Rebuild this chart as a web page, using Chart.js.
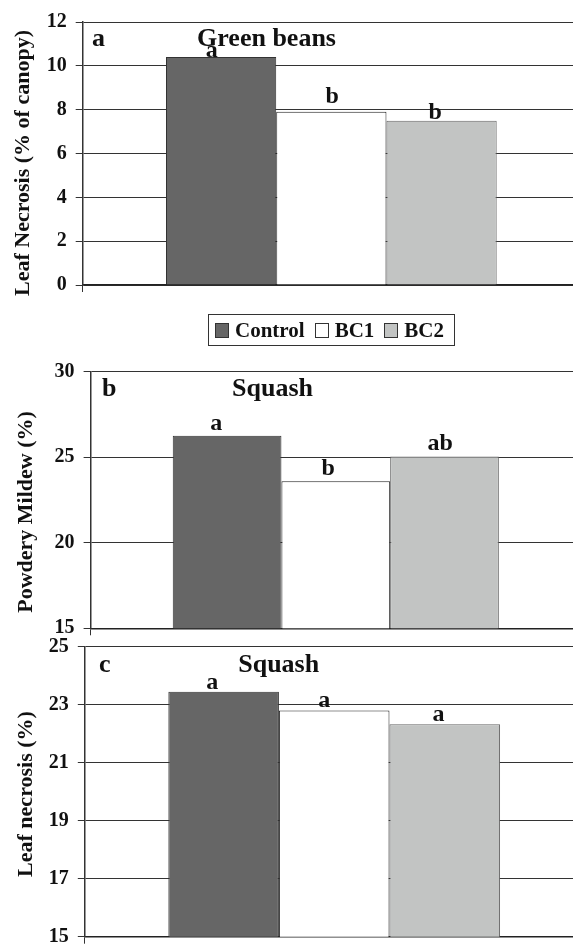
<!DOCTYPE html>
<html>
<head>
<meta charset="utf-8">
<script src="https://cdn.jsdelivr.net/npm/chart.js@4.4.1/dist/chart.umd.min.js"></script>
<style>
  html, body { margin: 0; padding: 0; background: #fff; overflow: hidden; width: 573px; height: 945px; }
  body { position: relative; }
  canvas { position: absolute; left: 0; }
  #legend {
    position: absolute; left: 208px; top: 314px; width: 247px; height: 32px;
    box-sizing: border-box; border: 1px solid #333; display: flex; align-items: center;
    padding-left: 6px; font: bold 21px 'Liberation Serif', 'Times New Roman', serif; color: #111;
  }
  #legend .sq { display: inline-block; width: 13px; height: 13px; border: 1px solid #333; margin-right: 6px; }
  #legend .txt { margin-right: 10px; }
</style>
</head>
<body>
<canvas id="chartA" width="595" height="320" style="top:0px"></canvas>
<canvas id="chartB" width="595" height="360" style="top:300px"></canvas>
<canvas id="chartC" width="595" height="345" style="top:620px"></canvas>
<div id="legend"></div>
<script>
// Data
let treatments = ["Control", "BC1", "BC2"];
let greenBeansNecrosis = [10.4, 7.9, 7.5];
let squashMildew = [26.25, 23.6, 25.05];
let squashNecrosis = [23.45, 22.8, 22.33];
let greenBeansLetters = ["a", "b", "b"];
let squashMildewLetters = ["a", "b", "ab"];
let squashNecrosisLetters = ["a", "a", "a"];
let greenBeansTicks = [0, 2, 4, 6, 8, 10, 12];
let squashMildewTicks = [15, 20, 25, 30];
let squashNecrosisTicks = [15, 17, 19, 21, 23, 25];

// Styles
let barColors = ["#666666", "#ffffff", "#c2c4c3"];
let barBorders = ["#333333", "#222222", "#666666"];
let serif = "'Liberation Serif', 'Times New Roman', serif";

// Draws panel letter, title, significance letters and the y title
let panelText = {
  id: "panelText",
  afterDatasetsDraw(chart, args, o) {
    let ctx = chart.ctx;
    ctx.save();
    ctx.fillStyle = "#111";
    ctx.textBaseline = "alphabetic";
    ctx.font = "bold 26px " + serif;
    ctx.textAlign = "left";
    ctx.fillText(o.letter, o.letterX, o.titleY);
    ctx.textAlign = "center";
    ctx.fillText(o.title, o.titleX, o.titleY);

    ctx.font = "bold 24px " + serif;
    for (let i = 0; i < chart.data.datasets.length; i++) {
      let bar = chart.getDatasetMeta(i).data[0];
      ctx.fillText(o.letters[i], bar.x + o.dx[i], bar.y - o.gap[i]);
    }

    ctx.translate(o.yTitleX, o.yTitleY);
    ctx.rotate(-Math.PI / 2);
    ctx.font = "bold 22px " + serif;
    ctx.textBaseline = "middle";
    ctx.fillText(o.yTitle, 0, 0);
    ctx.restore();
  }
};

function makePanel(canvasId, values, ticks, opts) {
  let datasets = [];
  for (let i = 0; i < treatments.length; i++) {
    datasets.push({
      label: treatments[i],
      data: [values[i]],
      backgroundColor: barColors[i],
      borderColor: barBorders[i],
      borderWidth: 1,
      barPercentage: 1,
      categoryPercentage: 0.665
    });
  }

  let ctx = document.getElementById(canvasId).getContext("2d");
  return new Chart(ctx, {
    type: "bar",
    data: { labels: [""], datasets: datasets },
    options: {
      responsive: false,
      animation: false,
      layout: { padding: opts.padding },
      plugins: {
        legend: { display: false },
        tooltip: { enabled: false },
        panelText: opts.text
      },
      scales: {
        x: {
          offset: true,
          ticks: { display: false },
          grid: { display: true, drawOnChartArea: false, tickLength: 7, color: "#333" },
          border: { color: "#222", width: 1.5 },
          afterFit: (s) => { s.height = 8; }
        },
        y: {
          min: ticks[0],
          max: ticks[ticks.length - 1],
          afterBuildTicks: (s) => { s.ticks = ticks.map((v) => ({ value: v })); },
          afterFit: (s) => { s.width = opts.axisWidth; },
          grid: { color: "#333", lineWidth: 1, tickLength: 7 },
          border: { color: "#333", width: 1.5 },
          ticks: { font: { family: serif, size: 20, weight: "bold" }, color: "#111", padding: 9 }
        }
      }
    },
    plugins: [panelText]
  });
}

// canvas A spans 0..320, B 300..660, C 620..965 (page coordinates)
makePanel("chartA", greenBeansNecrosis, greenBeansTicks, {
  padding: { top: 22, bottom: 27, left: 0, right: 15 },
  axisWidth: 82.7,
  text: {
    letter: "a", letterX: 92, title: "Green beans", titleX: 266.5, titleY: 46,
    letters: greenBeansLetters, dx: [-9.4, 0.7, -6.3], gap: [0, 9, 2],
    yTitle: "Leaf Necrosis (% of canopy)", yTitleX: 23, yTitleY: 163
  }
});

makePanel("chartB", squashMildew, squashMildewTicks, {
  padding: { top: 71.7, bottom: 23.7, left: 0, right: 14 },
  axisWidth: 90.6,
  text: {
    letter: "b", letterX: 102, title: "Squash", titleX: 272.5, titleY: 96,
    letters: squashMildewLetters, dx: [-10.8, -7.7, -4.4], gap: [6, 6, 6],
    yTitle: "Powdery Mildew (%)", yTitleX: 26.5, yTitleY: 212
  }
});

makePanel("chartC", squashNecrosis, squashNecrosisTicks, {
  padding: { top: 26.7, bottom: 20.3, left: 0, right: 11.4 },
  axisWidth: 84.8,
  text: {
    letter: "c", letterX: 99, title: "Squash", titleX: 278.7, titleY: 52,
    letters: squashNecrosisLetters, dx: [-11.5, -10, -6.3], gap: [3, 3.6, 3.3],
    yTitle: "Leaf necrosis (%)", yTitleX: 26.5, yTitleY: 174
  }
});

// Shared legend between panels a and b
let legend = document.getElementById("legend");
for (let i = 0; i < treatments.length; i++) {
  let sq = document.createElement("span");
  sq.className = "sq";
  sq.style.background = barColors[i];
  let txt = document.createElement("span");
  txt.className = "txt";
  txt.textContent = treatments[i];
  legend.appendChild(sq);
  legend.appendChild(txt);
}
</script>
</body>
</html>
